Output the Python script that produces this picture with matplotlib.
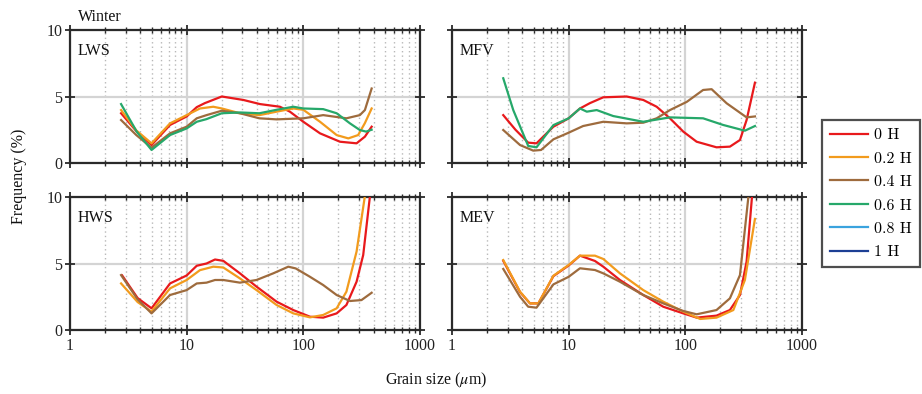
import matplotlib
matplotlib.use("Agg")
import matplotlib.pyplot as plt
from matplotlib.ticker import LogLocator, FixedLocator, NullFormatter, FixedFormatter
from matplotlib.lines import Line2D

plt.rcParams['font.family'] = ['Liberation Serif', 'DejaVu Serif']
plt.rcParams['mathtext.fontset'] = 'stix'

# ---------------- data ----------------
series_labels = ['0 H', '0.2 H', '0.4 H', '0.6 H', '0.8 H', '1 H']
series_colors = ['#e8191c', '#f29b1d', '#9e6b3d', '#26a86a', '#3aa3de', '#1c3f94']
panel_names = ['LWS', 'MFV', 'HWS', 'MEV']

# LWS
lws_red_x = [2.74, 3.7, 5.0, 7.2, 10, 12.2, 14.3, 20, 30.6, 42.5, 63, 76.7, 100, 139, 206, 286, 337, 385]
lws_red_y = [3.74, 2.4, 1.35, 2.86, 3.5, 4.2, 4.5, 5.0, 4.74, 4.43, 4.23, 3.86, 3.1, 2.23, 1.6, 1.48, 1.98, 2.73]
lws_orange_x = [2.74, 3.7, 5.0, 7.2, 10, 13, 16.9, 20, 28.6, 42, 59, 82, 100, 139, 193, 243, 295, 337, 385]
lws_orange_y = [3.98, 2.45, 1.48, 2.98, 3.6, 4.1, 4.23, 4.1, 3.74, 3.6, 3.86, 4.1, 4.0, 3.1, 2.1, 1.85, 2.1, 3.0, 4.1]
lws_brown_x = [2.74, 3.7, 5.0, 7.2, 10, 12.2, 14.8, 20, 28.6, 42, 59, 100, 148, 234, 305, 337, 385]
lws_brown_y = [3.23, 2.1, 1.15, 2.23, 2.73, 3.36, 3.6, 3.93, 3.74, 3.36, 3.28, 3.36, 3.6, 3.36, 3.6, 3.98, 5.6]
lws_green_x = [2.74, 3.73, 5.0, 7.2, 10, 12.2, 14.8, 20, 28.6, 42, 59, 82, 100, 148, 193, 251, 305, 345, 385]
lws_green_y = [4.43, 2.36, 0.98, 2.1, 2.6, 3.1, 3.3, 3.74, 3.8, 3.74, 4.0, 4.23, 4.1, 4.05, 3.74, 2.98, 2.48, 2.36, 2.5]

# MFV
mfv_red_x = [2.75, 3.5, 4.5, 5.3, 7.4, 10, 12.5, 15.2, 19.8, 31.4, 43.6, 56.8, 73.8, 96, 125, 185, 241, 294, 335, 395]
mfv_red_y = [3.6, 2.5, 1.53, 1.48, 2.73, 3.36, 4.1, 4.5, 4.94, 5.0, 4.74, 4.23, 3.36, 2.36, 1.6, 1.18, 1.23, 1.73, 3.23, 6.04]
mfv_brown_x = [2.75, 3.83, 4.97, 5.8, 7.4, 10, 13.3, 19.8, 31.4, 43.6, 56.8, 73.8, 103, 142, 168, 226, 335, 395]
mfv_brown_y = [2.48, 1.35, 0.93, 0.98, 1.78, 2.28, 2.78, 3.1, 2.98, 3.03, 3.36, 3.98, 4.6, 5.49, 5.55, 4.49, 3.43, 3.5]
mfv_green_x = [2.75, 3.35, 4.5, 5.3, 7.4, 10, 12.5, 14.3, 17.4, 24.1, 43.6, 73.8, 142, 211, 324, 395]
mfv_green_y = [6.37, 3.98, 1.28, 1.18, 2.85, 3.36, 4.1, 3.86, 3.98, 3.53, 3.1, 3.43, 3.36, 2.86, 2.43, 2.78]

# HWS
hws_red_x = [2.8, 3.8, 5.0, 7.2, 10, 12.2, 14.8, 17.5, 20.6, 28.6, 39.7, 59, 82, 114, 148, 193, 234, 286, 326, 375]
hws_red_y = [4.1, 2.4, 1.63, 3.5, 4.1, 4.83, 5.0, 5.3, 5.2, 4.26, 3.26, 2.13, 1.5, 1.0, 0.93, 1.25, 1.88, 3.63, 5.64, 10.3]
hws_orange_x = [2.74, 3.8, 5.0, 7.2, 10, 13, 16.9, 20.6, 28.6, 39.7, 59, 82, 114, 148, 193, 234, 286, 340]
hws_orange_y = [3.5, 2.1, 1.38, 3.13, 3.76, 4.5, 4.76, 4.7, 3.88, 3.0, 1.88, 1.25, 0.95, 1.13, 1.63, 2.88, 5.9, 10.3]
hws_brown_x = [2.74, 3.8, 5.0, 7.2, 10, 12.2, 14.8, 17.5, 20.6, 28.6, 39.7, 55.2, 74.3, 86, 114, 148, 193, 251, 315, 385]
hws_brown_y = [4.13, 2.3, 1.25, 2.63, 3.0, 3.5, 3.56, 3.76, 3.76, 3.56, 3.76, 4.26, 4.76, 4.63, 4.0, 3.38, 2.63, 2.18, 2.25, 2.8]

# MEV
mev_red_x = [2.75, 3.83, 4.66, 5.5, 7.4, 10, 12.5, 16.8, 19.8, 27.5, 43.6, 64.7, 96, 125, 185, 241, 294, 335, 375]
mev_red_y = [5.2, 2.85, 2.0, 2.0, 4.05, 4.85, 5.59, 5.19, 4.76, 3.76, 2.63, 1.75, 1.25, 0.93, 1.08, 1.5, 2.63, 5.14, 10.3]
mev_orange_x = [2.75, 3.83, 4.66, 5.5, 7.4, 10, 12.5, 16.8, 19.8, 27.5, 43.6, 64.7, 96, 134, 185, 258, 324, 395]
mev_orange_y = [5.26, 2.88, 2.0, 2.0, 4.08, 4.89, 5.59, 5.59, 5.34, 4.26, 3.0, 2.13, 1.38, 0.83, 0.93, 1.5, 3.76, 8.35]
mev_brown_x = [2.75, 3.83, 4.5, 5.3, 7.4, 10, 12.5, 16.8, 19.8, 27.5, 43.6, 64.7, 96, 125, 185, 241, 294, 350]
mev_brown_y = [4.59, 2.5, 1.75, 1.68, 3.43, 4.0, 4.64, 4.51, 4.26, 3.63, 2.63, 2.0, 1.43, 1.18, 1.5, 2.38, 4.13, 10.3]

x_ticks = [1, 10, 100, 1000]
x_ticklabels = ['1', '10', '100', '1000']
y_ticks = [0, 5, 10]
y_ticklabels = ['0', '5', '10']

panel_series = {
    'LWS': [(lws_red_x, lws_red_y, 0), (lws_orange_x, lws_orange_y, 1),
            (lws_brown_x, lws_brown_y, 2), (lws_green_x, lws_green_y, 3)],
    'MFV': [(mfv_red_x, mfv_red_y, 0), (mfv_brown_x, mfv_brown_y, 2),
            (mfv_green_x, mfv_green_y, 3)],
    'HWS': [(hws_red_x, hws_red_y, 0), (hws_orange_x, hws_orange_y, 1),
            (hws_brown_x, hws_brown_y, 2)],
    'MEV': [(mev_red_x, mev_red_y, 0), (mev_orange_x, mev_orange_y, 1),
            (mev_brown_x, mev_brown_y, 2)],
}

# ---------------- figure ----------------
W, H = 922, 394
fig = plt.figure(figsize=(W / 100, H / 100), dpi=100)

def frac(x0, y0, x1, y1):
    return [x0 / W, 1 - y1 / H, (x1 - x0) / W, (y1 - y0) / H]

rects = {
    'LWS': frac(70, 30, 420, 163),
    'MFV': frac(452, 30, 802, 163),
    'HWS': frac(70, 197, 420, 330),
    'MEV': frac(452, 197, 802, 330),
}

spine_col = '#2a2a2a'
fs = 11.5

for name in panel_names:
    ax = fig.add_axes(rects[name])
    ax.set_xscale('log')
    ax.set_xlim(1, 1000)
    ax.set_ylim(0, 10)
    for xs, ys, ci in panel_series[name]:
        ax.plot(xs, ys, color=series_colors[ci], lw=1.6, zorder=3, solid_joinstyle='round')

    ax.xaxis.set_major_locator(FixedLocator(x_ticks))
    ax.xaxis.set_minor_locator(LogLocator(base=10, subs=range(2, 10)))
    ax.xaxis.set_minor_formatter(NullFormatter())
    ax.yaxis.set_major_locator(FixedLocator(y_ticks))
    ax.yaxis.set_minor_locator(FixedLocator([]))

    bottom_row = name in ('HWS', 'MEV')
    left_col = name in ('LWS', 'HWS')
    if bottom_row:
        ax.xaxis.set_major_formatter(FixedFormatter(x_ticklabels))
    else:
        ax.set_xticklabels([])
    if left_col:
        ax.yaxis.set_major_formatter(FixedFormatter(y_ticklabels))
    else:
        ax.set_yticklabels([])

    ax.tick_params(which='major', direction='inout', length=7, width=1.3,
                   color=spine_col, top=True, right=True, labelsize=fs, pad=2,
                   labelcolor='#222222')
    ax.tick_params(which='minor', direction='inout', length=5, width=1.0,
                   color=spine_col, top=True, right=True)

    ax.grid(True, which='major', axis='both', color='#d4d4d4', lw=1.6, ls='-', zorder=0)
    ax.grid(True, which='minor', axis='x', color='#b8b8b8', lw=1.0, ls=(0, (1, 2.2)), zorder=0)
    ax.set_axisbelow(True)
    for sp in ax.spines.values():
        sp.set_color(spine_col)
        sp.set_linewidth(1.6)

    ax.text(0.023, 0.84, name, transform=ax.transAxes, fontsize=fs,
            ha='left', va='center', color='#111111')
    if name == 'LWS':
        ax.text(0.023, 1.04, 'Winter', transform=ax.transAxes, fontsize=fs,
                ha='left', va='bottom', color='#111111')

fig.text(19 / W, 1 - 176 / H, 'Frequency (%)', rotation=90, ha='center', va='center',
         fontsize=fs, color='#111111')
fig.text(436 / W, 1 - 380 / H, r'Grain size ($\mu$m)', ha='center', va='center',
         fontsize=fs, color='#111111')

handles = [Line2D([], [], color=c, lw=1.6) for c in series_colors]
leg = fig.legend(handles, series_labels, loc='upper left',
                 bbox_to_anchor=(822 / W, 1 - 120 / H), borderaxespad=0,
                 frameon=True, fancybox=False, edgecolor='#222222',
                 prop={'family': 'cmr10', 'size': 11.5}, handlelength=2.4,
                 handletextpad=0.35, labelspacing=0.58, borderpad=0.5)
leg.get_frame().set_linewidth(1.6)

fig.savefig('out.png', dpi=100)
